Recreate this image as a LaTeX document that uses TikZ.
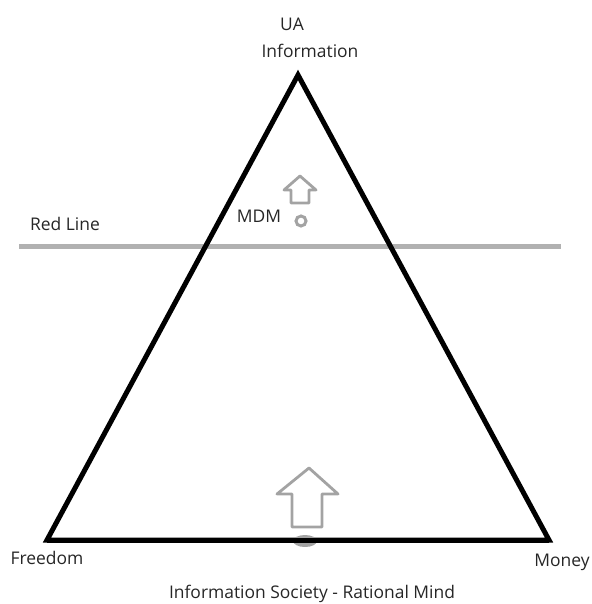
\documentclass[tikz,border=0pt]{standalone}
\usepackage{fontspec}
\setmainfont{Open Sans}
\definecolor{txt}{HTML}{262626}
\definecolor{pen}{HTML}{A3A3A3}
\begin{document}
\begin{tikzpicture}[x=1bp,y=-1bp,
  lbl/.style={font=\fontsize{17.5}{20}\selectfont,text=txt,inner sep=0pt},
  tri/.style={line width=5bp,line join=miter,black},
  sketch/.style={line width=2.8bp,pen,line join=round,line cap=round}]
\useasboundingbox (0,0) rectangle (592,604);
% triangle
\coordinate (A) at (298,75);
\coordinate (B) at (47,540);
\coordinate (C) at (549,540);
% red line
\coordinate (rl1) at (19,246);
\coordinate (rl2) at (561,246);
\draw[line width=5bp,pen!85] (rl1) -- (rl2);
\draw[tri] (A) -- (B) -- (C) -- cycle;
% small arrow and circle
\draw[sketch] (300,176) -- (316,190) -- (309,190) -- (309,203) -- (291,203) -- (291,190) -- (284,190) -- cycle;
\node[circle,draw=pen,line width=3bp,minimum size=10bp,inner sep=0pt] (dot) at (301,221) {};
% big arrow and ellipse
\fill[pen] (305,541) ellipse (12 and 6);
\draw[tri] (B) -- (C);
\draw[sketch] (309,468) -- (338,494) -- (322,494) -- (322,527) -- (292,527) -- (292,494) -- (277,494) -- cycle;
% labels
\node[lbl] (ua) at (292,24) {UA};
\node[lbl] (info) at (310,51) {Information};
\node[lbl] (red) at (65,224) {Red Line};
\node[lbl] (mdm) at (259,216) {MDM};
\node[lbl] (free) at (47,558) {Freedom};
\node[lbl] (money) at (562,562) {Money};
\node[lbl] (soc) at (312,594) {Information Society - Rational Mind};
\end{tikzpicture}
\end{document}
